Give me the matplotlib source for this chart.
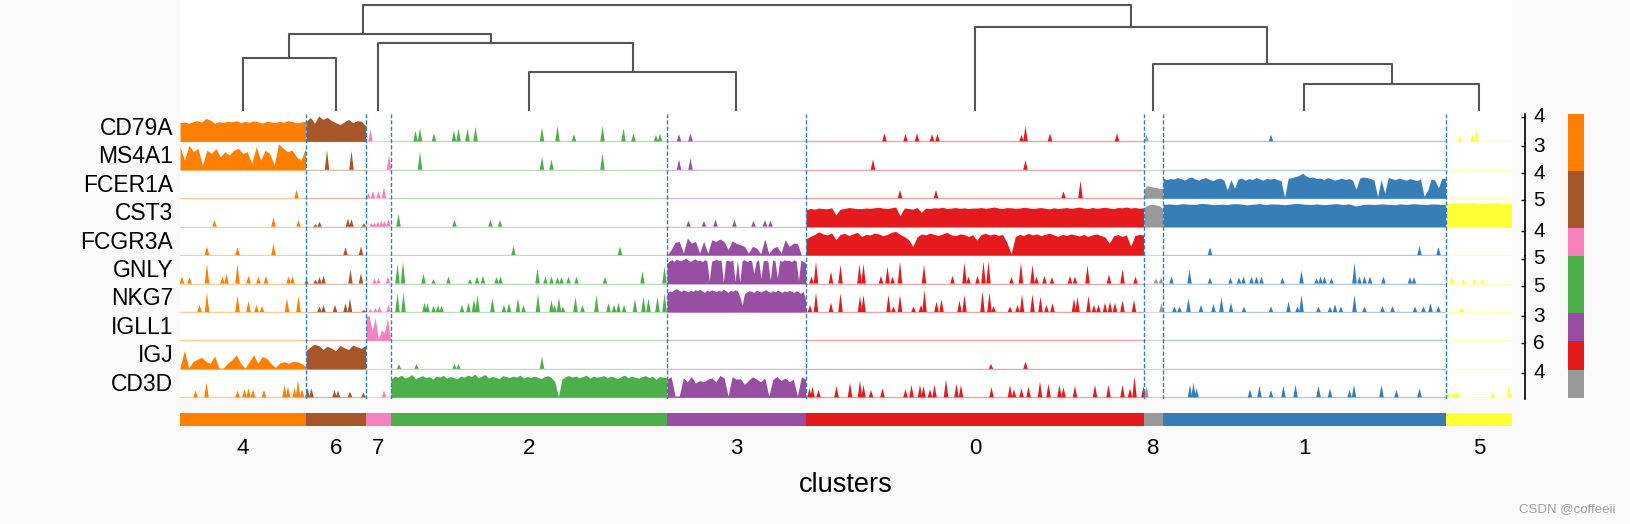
import numpy as np
import matplotlib.pyplot as plt
import matplotlib.transforms as mtransforms

plt.rcParams['font.family'] = ['Liberation Sans', 'DejaVu Sans']

# clusters in plotted (dendrogram) order, with cell counts and colours
clusters = ['4', '6', '7', '2', '3', '0', '8', '1', '5']
cluster_sizes = [252, 120, 50, 552, 278, 676, 38, 566, 132]
cluster_colors = ['#ff7f00', '#a65628', '#f781bf', '#4daf4a', '#984ea3',
                  '#e41a1c', '#999999', '#377eb8', '#ffff33']

genes = ['CD79A', 'MS4A1', 'FCER1A', 'CST3', 'FCGR3A',
         'GNLY', 'NKG7', 'IGLL1', 'IGJ', 'CD3D']
gene_max = [4.2, 3.3, 4.1, 4.9, 4.3, 5.2, 5.0, 3.2, 6.0, 4.2]

# relative expression (fraction of gene max) for clusters where a gene is broadly expressed
dense = {
    ('CD79A', '4'): [0.72, 0.75, 0.7, 0.76, 0.8, 0.74, 0.89, 0.82, 0.7, 0.76, 0.73, 0.78, 0.75, 0.8, 0.72,
                     0.77, 0.74, 0.79, 0.76, 0.7, 0.78, 0.75, 0.73, 0.77, 0.74, 0.8, 0.76, 0.72, 0.75, 0.78],
    ('CD79A', '6'): [0.75, 0.93, 0.7, 0.98, 0.85, 0.93, 0.8, 0.72, 0.65, 0.75, 0.85, 0.72, 0.8, 0.78, 0.6],
    ('MS4A1', '4'): [0.89, 0.37, 0.95, 0.7, 0.83, 0.18, 0.76, 0.63, 0.83, 0.5, 0.7, 0.57, 0.76, 0.83, 0.63,
                     0.7, 0.25, 0.89, 0.37, 0.76, 0.63, 0.18, 1.0, 0.83, 0.7, 0.76, 0.5, 0.37, 0.83],
    ('FCER1A', '8'): [0.3, 0.48, 0.47, 0.45, 0.43, 0.41, 0.4, 0.38, 0.36],
    ('FCER1A', '1'): [0.78, 0.72, 0.76, 0.74, 0.8, 0.75, 0.7, 0.78, 0.82, 0.74,
                      0.7, 0.76, 0.8, 0.72, 0.68, 0.75, 0.78, 0.7, 0.32, 0.72,
                      0.38, 0.74, 0.78, 0.7, 0.76, 0.72, 0.8, 0.75, 0.7, 0.77,
                      0.74, 0.78, 0.72, 0.68, 0.04, 0.76, 0.8, 0.84, 0.88, 0.97,
                      0.86, 0.8, 0.82, 0.76, 0.78, 0.72, 0.8, 0.75, 0.7, 0.74,
                      0.78, 0.72, 0.76, 0.7, 0.35, 0.78, 0.82, 0.8, 0.76, 0.7,
                      0.06, 0.72, 0.2, 0.8, 0.76, 0.72, 0.78, 0.74, 0.7, 0.76,
                      0.72, 0.68, 0.75, 0.08, 0.3, 0.74, 0.7, 0.4, 0.78, 0.76],
    ('CST3', '0'): [0.66, 0.7, 0.68, 0.72, 0.7, 0.69, 0.73, 0.45, 0.68, 0.7,
                    0.74, 0.72, 0.7, 0.7, 0.72, 0.71, 0.73, 0.75, 0.72, 0.7,
                    0.73, 0.76, 0.42, 0.72, 0.7, 0.68, 0.74, 0.55, 0.72, 0.7,
                    0.73, 0.72, 0.75, 0.7, 0.72, 0.74, 0.71, 0.73, 0.7, 0.72,
                    0.72, 0.74, 0.71, 0.73, 0.76, 0.72, 0.7, 0.74, 0.73, 0.71,
                    0.72, 0.75, 0.73, 0.7, 0.72, 0.74, 0.71, 0.69, 0.73, 0.7,
                    0.72, 0.74, 0.71, 0.73, 0.76, 0.72, 0.7, 0.74, 0.71, 0.73,
                    0.75, 0.72, 0.7, 0.74, 0.73, 0.76, 0.72, 0.74, 0.71, 0.73],
    ('CST3', '8'): [0.72, 0.82, 0.85, 0.86, 0.85, 0.83, 0.8, 0.7],
    ('CST3', '1'): [0.86, 0.88, 0.85, 0.89, 0.87, 0.86, 0.9, 0.88, 0.85, 0.87, 0.86, 0.89, 0.88, 0.84, 0.87,
                    0.89, 0.86, 0.88, 0.87, 0.85, 0.88, 0.9, 0.87, 0.86, 0.88, 0.85, 0.87, 0.89, 0.86, 0.88,
                    0.8, 0.85, 0.87, 0.86, 0.88, 0.87, 0.85, 0.88, 0.86, 0.89, 0.87, 0.86, 0.88, 0.87, 0.85],
    ('CST3', '5'): [0.9, 0.92, 0.91, 0.93, 0.92, 0.9, 0.93, 0.92, 0.91, 0.92],
    ('FCGR3A', '3'): [0.0, 0.21, 0.49, 0.53, 0.08, 0.66, 0.46, 0.53, 0.08, 0.53, 0.08, 0.59, 0.53, 0.62, 0.53,
                      0.21, 0.55, 0.46, 0.4, 0.34, 0.08, 0.34, 0.27, 0.05, 0.62, 0.05, 0.27, 0.34, 0.08, 0.59,
                      0.34, 0.46, 0.46, 0.0, 0.0],
    ('FCGR3A', '0'): [0.62, 0.72, 0.8, 0.9, 0.82, 0.78, 0.86, 0.6, 0.8, 0.84,
                      0.76, 0.82, 0.88, 0.72, 0.8, 0.78, 0.85, 0.82, 0.75, 0.8,
                      0.88, 0.92, 0.8, 0.72, 0.6, 0.34, 0.7, 0.82, 0.78, 0.85,
                      0.8, 0.76, 0.82, 0.88, 0.78, 0.75, 0.82, 0.8, 0.72, 0.78,
                      0.58, 0.8, 0.84, 0.78, 0.82, 0.76, 0.8, 0.5, 0.05, 0.72,
                      0.8, 0.76, 0.84, 0.78, 0.82, 0.75, 0.8, 0.85, 0.78, 0.72,
                      0.8, 0.76, 0.82, 0.78, 0.74, 0.8, 0.72, 0.78, 0.82, 0.76,
                      0.7, 0.46, 0.74, 0.8, 0.72, 0.78, 0.34, 0.76, 0.8, 0.78],
    ('GNLY', '3'): [0.78, 0.88, 0.92, 0.85, 0.95, 0.9, 0.88, 0.93, 0.98, 0.9,
                    0.86, 0.92, 0.95, 0.88, 0.9, 0.85, 0.92, 0.88, 0.1, 0.86,
                    0.9, 0.94, 0.88, 0.92, 0.05, 0.88, 0.9, 0.86, 0.92, 0.08,
                    0.9, 0.06, 0.88, 0.92, 0.85, 0.9, 0.88, 0.4, 0.86, 0.92,
                    0.2, 0.88, 0.9, 0.86, 0.12, 0.92, 0.88, 0.2, 0.9, 0.86,
                    0.92, 0.88, 0.9, 0.85, 0.92, 0.88, 0.12, 0.9, 0.86, 0.8],
    ('NKG7', '3'): [0.72, 0.82, 0.78, 0.86, 0.9, 0.84, 0.8, 0.86, 0.82, 0.78,
                    0.84, 0.8, 0.86, 0.82, 0.88, 0.8, 0.76, 0.84, 0.8, 0.86,
                    0.82, 0.78, 0.85, 0.8, 0.88, 0.82, 0.76, 0.84, 0.8, 0.86,
                    0.82, 0.6, 0.27, 0.7, 0.78, 0.82, 0.8, 0.76, 0.84, 0.8,
                    0.78, 0.82, 0.86, 0.8, 0.76, 0.82, 0.78, 0.84, 0.8, 0.76,
                    0.82, 0.78, 0.84, 0.8, 0.76, 0.82, 0.78, 0.72, 0.8, 0.5],
    ('IGLL1', '7'): [0.9, 0.98, 0.35, 0.89, 0.05, 0.4, 0.3, 0.85, 0.05],
    ('IGJ', '4'): [0.05, 0.71, 0.03, 0.28, 0.37, 0.45, 0.28, 0.22, 0.5, 0.03, 0.03, 0.22, 0.35, 0.54, 0.22,
                   0.03, 0.28, 0.54, 0.22, 0.48, 0.41, 0.22, 0.06, 0.22, 0.28, 0.22, 0.28, 0.28, 0.22, 0.09],
    ('IGJ', '6'): [0.7, 0.85, 0.95, 0.9, 0.75, 0.88, 0.8, 0.7, 0.9, 0.82, 0.75, 0.92, 0.85, 0.8, 0.9],
    ('CD3D', '2'): [0.7, 0.82, 0.78, 0.86, 0.74, 0.8, 0.88, 0.72, 0.78, 0.84,
                    0.76, 0.8, 0.7, 0.82, 0.78, 0.85, 0.74, 0.8, 0.76, 0.72,
                    0.82, 0.78, 0.86, 0.8, 0.9, 0.76, 0.82, 0.88, 0.74, 0.8,
                    0.78, 0.72, 0.84, 0.8, 0.76, 0.82, 0.78, 0.86, 0.74, 0.8,
                    0.76, 0.82, 0.78, 0.72, 0.8, 0.84, 0.76, 0.6, 0.02, 0.7,
                    0.8, 0.84, 0.78, 0.82, 0.76, 0.8, 0.86, 0.74, 0.82, 0.78,
                    0.8, 0.84, 0.76, 0.82, 0.78, 0.72, 0.8, 0.86, 0.76, 0.82,
                    0.78, 0.74, 0.8, 0.84, 0.76, 0.82, 0.7, 0.8, 0.78, 0.75],
    ('CD3D', '3'): [0.7, 0.8, 0.05, 0.05, 0.75, 0.6, 0.8, 0.55, 0.65, 0.6, 0.7, 0.75, 0.6, 0.85, 0.75,
                    0.05, 0.8, 0.7, 0.72, 0.5, 0.65, 0.8, 0.7, 0.6, 0.75, 0.05, 0.7, 0.8, 0.65, 0.75,
                    0.6, 0.7, 0.05, 0.8, 0.7],
}

# isolated expressing cells: (cell index, fraction of gene max)
spikes = {
    'CD79A': [(381, 0.44), (471, 0.41), (480, 0.5), (508, 0.31), (548, 0.41), (557, 0.5), (575, 0.5),
              (591, 0.57), (724, 0.54), (755, 0.59), (788, 0.28), (845, 0.59), (887, 0.5), (907, 0.31),
              (952, 0.25), (960, 0.31), (998, 0.28), (1021, 0.31), (1409, 0.31), (1451, 0.28), (1474, 0.31),
              (1504, 0.28), (1515, 0.28), (1683, 0.25), (1691, 0.59), (1740, 0.31), (1874, 0.31),
              (1933, 0.25), (2182, 0.26), (2559, 0.2), (2585, 0.25), (2593, 0.44)],
    'MS4A1': [(294, 0.76), (343, 0.73), (418, 0.57), (480, 0.7), (724, 0.5), (743, 0.4), (845, 0.63),
              (998, 0.4), (1021, 0.44), (1386, 0.4), (1691, 0.37)],
    'FCER1A': [(233, 0.32), (377, 0.19), (386, 0.28), (397, 0.26), (408, 0.43), (1440, 0.32),
               (1512, 0.32), (1767, 0.26), (1801, 0.68)],
    'CST3': [(69, 0.26), (187, 0.36), (237, 0.26), (271, 0.09), (279, 0.19), (336, 0.32), (343, 0.28),
             (368, 0.13), (383, 0.13), (389, 0.15), (396, 0.2), (403, 0.25), (409, 0.22), (417, 0.3),
             (437, 0.49), (549, 0.26), (621, 0.26), (640, 0.26), (1017, 0.23), (1048, 0.22), (1071, 0.28),
             (1109, 0.26), (1147, 0.23), (1170, 0.26), (1181, 0.23)],
    'FCGR3A': [(54, 0.34), (115, 0.3), (187, 0.44), (331, 0.3), (362, 0.34), (667, 0.34), (880, 0.34),
               (2060, 0.31), (2479, 0.34), (2517, 0.31)],
    'GNLY': [(4, 0.27), (19, 0.25), (54, 0.76), (85, 0.27), (93, 0.37), (115, 0.76), (137, 0.3), (157, 0.27),
             (172, 0.3), (217, 0.27), (225, 0.27), (253, 0.14), (271, 0.14), (279, 0.25), (287, 0.3),
             (341, 0.53), (362, 0.4), (389, 0.2), (397, 0.2), (416, 0.27), (435, 0.76), (446, 0.85),
             (487, 0.37), (507, 0.17), (537, 0.27), (580, 0.17), (594, 0.27), (606, 0.3), (633, 0.25),
             (641, 0.27), (715, 0.59), (731, 0.27), (743, 0.27), (755, 0.25), (763, 0.25), (777, 0.27),
             (793, 0.27), (850, 0.25), (925, 0.49), (969, 0.66), (1263, 0.27), (1272, 0.85), (1302, 0.46),
             (1321, 0.72), (1359, 0.76), (1367, 0.76), (1402, 0.3), (1415, 0.66), (1425, 0.27), (1440, 0.85),
             (1488, 0.72), (1545, 0.3), (1569, 0.81), (1577, 0.27), (1595, 0.3), (1607, 0.85), (1617, 0.85),
             (1663, 0.25), (1682, 0.81), (1705, 0.72), (1713, 0.27), (1729, 0.3), (1744, 0.25), (1780, 0.3),
             (1790, 0.27), (1815, 0.7), (1858, 0.36), (1885, 0.55), (1911, 0.27), (1952, 0.2), (1962, 0.22),
             (1983, 0.27), (2019, 0.53), (2060, 0.23), (2101, 0.23), (2118, 0.23), (2127, 0.27), (2143, 0.27),
             (2153, 0.27), (2163, 0.27), (2205, 0.23), (2243, 0.5), (2273, 0.2), (2281, 0.27), (2289, 0.27),
             (2303, 0.2), (2349, 0.81), (2359, 0.27), (2369, 0.27), (2380, 0.27), (2407, 0.27), (2460, 0.25),
             (2468, 0.25), (2543, 0.3), (2567, 0.18), (2589, 0.18), (2605, 0.18)],
    'NKG7': [(39, 0.27), (54, 0.75), (115, 0.66), (137, 0.43), (153, 0.27), (164, 0.23), (214, 0.53),
             (237, 0.62), (279, 0.21), (287, 0.27), (310, 0.27), (331, 0.34), (340, 0.53), (368, 0.08),
             (381, 0.1), (391, 0.14), (399, 0.21), (417, 0.31), (435, 0.72), (447, 0.72), (489, 0.36),
             (495, 0.34), (507, 0.23), (516, 0.27), (523, 0.23), (564, 0.27), (577, 0.36), (588, 0.49),
             (595, 0.66), (625, 0.53), (648, 0.27), (658, 0.34), (676, 0.53), (687, 0.27), (716, 0.7),
             (743, 0.46), (749, 0.27), (758, 0.55), (766, 0.21), (791, 0.57), (805, 0.27), (833, 0.66),
             (857, 0.34), (868, 0.27), (877, 0.36), (888, 0.27), (910, 0.5), (927, 0.59), (937, 0.53),
             (955, 0.59), (969, 0.72), (1260, 0.27), (1272, 0.75), (1302, 0.36), (1321, 0.72), (1360, 0.62),
             (1367, 0.66), (1417, 0.66), (1427, 0.21), (1440, 0.66), (1467, 0.21), (1482, 0.27), (1489, 0.85),
             (1513, 0.4), (1523, 0.49), (1559, 0.44), (1569, 0.66), (1605, 0.79), (1619, 0.75), (1627, 0.23),
             (1660, 0.21), (1675, 0.27), (1684, 0.68), (1705, 0.68), (1721, 0.59), (1733, 0.27), (1745, 0.34),
             (1788, 0.53), (1795, 0.59), (1817, 0.62), (1828, 0.27), (1837, 0.27), (1850, 0.36), (1860, 0.4),
             (1870, 0.36), (1885, 0.44), (1908, 0.46), (1963, 0.34), (1989, 0.21), (1999, 0.21), (2017, 0.53),
             (2042, 0.27), (2067, 0.31), (2083, 0.57), (2102, 0.36), (2128, 0.21), (2182, 0.21), (2217, 0.4),
             (2235, 0.21), (2243, 0.66), (2277, 0.21), (2300, 0.21), (2310, 0.3), (2322, 0.21), (2349, 0.66),
             (2369, 0.21), (2405, 0.23), (2425, 0.23), (2470, 0.21), (2487, 0.21), (2501, 0.34), (2517, 0.23),
             (2563, 0.18)],
    'IGLL1': [],
    'IGJ': [(438, 0.18), (473, 0.18), (549, 0.18), (557, 0.18), (724, 0.48), (1622, 0.19), (1691, 0.28)],
    'CD3D': [(31, 0.26), (53, 0.57), (115, 0.26), (129, 0.31), (137, 0.35), (146, 0.31), (168, 0.28),
             (209, 0.48), (216, 0.41), (229, 0.35), (236, 0.67), (244, 0.31), (255, 0.35), (263, 0.35),
             (309, 0.28), (316, 0.26), (340, 0.22), (367, 0.18), (408, 0.26), (1259, 0.35), (1265, 0.41),
             (1277, 0.28), (1313, 0.44), (1340, 0.57), (1360, 0.65), (1367, 0.48), (1382, 0.28), (1405, 0.35),
             (1451, 0.31), (1463, 0.48), (1480, 0.48), (1487, 0.44), (1500, 0.31), (1509, 0.48), (1532, 0.7),
             (1553, 0.52), (1562, 0.48), (1623, 0.39), (1660, 0.48), (1668, 0.31), (1683, 0.35), (1697, 0.41),
             (1720, 0.61), (1737, 0.52), (1759, 0.48), (1767, 0.39), (1790, 0.44), (1830, 0.48), (1857, 0.48),
             (1885, 0.48), (1900, 0.35), (1909, 0.8), (1927, 0.41), (1933, 0.44), (2020, 0.48), (2027, 0.57),
             (2033, 0.35), (2140, 0.31), (2159, 0.44), (2182, 0.28), (2207, 0.44), (2231, 0.48), (2277, 0.44),
             (2300, 0.35), (2339, 0.28), (2348, 0.48), (2403, 0.48), (2433, 0.28), (2479, 0.35), (2537, 0.18),
             (2547, 0.22), (2555, 0.25), (2625, 0.18), (2658, 0.52)],
}

# dendrogram: leaves are positions in cluster order, merges are (left node, right node, height)
merges = [(0, 1, 51.7), (3, 4, 38.3), (2, 10, 66.7), (9, 11, 75.7),
          (7, 8, 25.7), (6, 13, 46.0), (5, 14, 83.3), (12, 15, 105.0)]

# small colour strip at the right
side_colors = ['#ff7f00', '#a65628', '#f781bf', '#4daf4a', '#984ea3', '#e41a1c', '#999999']
side_rows = [2, 2, 1, 2, 1, 1, 1]

bounds = np.concatenate([[0], np.cumsum(cluster_sizes)])
total = bounds[-1]
centers = (bounds[:-1] + bounds[1:]) / 2

W, H = 1631, 524
fig = plt.figure(figsize=(W / 100, H / 100), dpi=100, facecolor='#fafafa')
left, width = 180 / W, 1332 / W
row_h = 28.44
row_top = 114.2

for i, gene in enumerate(genes):
    top = row_top + i * row_h
    ax = fig.add_axes([left, 1 - (top + row_h) / H, width, row_h / H])
    m = gene_max[i]
    for k, cl in enumerate(clusters):
        x0, x1 = bounds[k], bounds[k + 1] - 1
        ax.plot([x0, x1], [0, 0], color=cluster_colors[k], alpha=0.4, lw=1)
        if (gene, cl) in dense:
            vals = np.array(dense[(gene, cl)]) * m
            xs = np.linspace(x0, x1, len(vals))
            ax.fill_between(xs, 0, vals, color=cluster_colors[k], lw=0)
    for c, v in spikes[gene]:
        k = np.searchsorted(bounds, c, side='right') - 1
        ax.fill([c - 4.5, c, c + 4.5], [0, v * m, 0], color=cluster_colors[k], lw=0)
    ymax = 1.05 * m
    ax.set_xlim(0, total)
    ax.set_ylim(-0.05 * m, ymax)
    for s in ['left', 'top', 'bottom']:
        ax.spines[s].set_visible(False)
    ax.spines['right'].set_position(('axes', 1.01))
    ax.spines['right'].set_linewidth(1.2)
    ax.set_xticks([])
    ax.yaxis.tick_right()
    ax.set_yticks([int(ymax)])
    ax.tick_params(axis='y', direction='in', length=3, width=1, labelright=False)
    trans = mtransforms.blended_transform_factory(ax.transAxes, ax.transData)
    ax.text(1.016, int(ymax), str(int(ymax)), transform=trans, ha='left', va='center',
            fontsize=15, clip_on=False)
    ax.text(-0.005, 0.1, gene, transform=ax.transAxes, ha='right', va='bottom', fontsize=16.5)

# dashed separators between clusters
ov = fig.add_axes([left, 1 - (row_top + 10 * row_h) / H, width, 10 * row_h / H])
ov.vlines(bounds[1:-1], 0, 1, lw=1, linestyle=(0, (3, 1.5)), color='#2a7fc9')
ov.set_xlim(0, total)
ov.set_ylim(0, 1)
ov.axis('off')

# dendrogram
dax = fig.add_axes([left, 1 - row_top / H, width, row_top / H])
node_pos = list(range(len(clusters)))
node_h = [0.0] * len(clusters)
for a, b, h in merges:
    xa = np.interp(node_pos[a], range(len(clusters)), centers)
    xb = np.interp(node_pos[b], range(len(clusters)), centers)
    dax.plot([xa, xa, xb, xb], [node_h[a], h, h, node_h[b]], color='#555555', lw=1.5)
    node_pos.append((node_pos[a] + node_pos[b]) / 2)
    node_h.append(h)
dax.set_xlim(0, total)
dax.set_ylim(-4.2, 110)
dax.set_xticks([])
dax.set_yticks([])
for s in dax.spines.values():
    s.set_visible(False)

# cluster colour blocks
cax = fig.add_axes([left, 1 - 426 / H, width, 13 / H])
cax.bar(bounds[:-1], 1, width=cluster_sizes, align='edge', color=cluster_colors, lw=0)
cax.set_xlim(0, total)
cax.set_ylim(0, 1)
cax.set_yticks([])
cax.set_xticks(centers)
cax.set_xticklabels(clusters)
cax.tick_params(axis='x', length=0, pad=8.5, labelsize=16)
for s in cax.spines.values():
    s.set_visible(False)
fig.text(846 / W, 1 - 492 / H, 'clusters', ha='center', va='baseline', fontsize=19.5)

# side colour strip
sax = fig.add_axes([1568 / W, 1 - 398 / H, 16 / W, 284 / H])
sax.bar(0, side_rows, bottom=np.cumsum(side_rows) - np.array(side_rows), width=1,
        color=side_colors, lw=0)
sax.set_xlim(-0.5, 0.5)
sax.set_ylim(sum(side_rows), 0)
sax.axis('off')

fig.text(1616 / W, 1 - 509 / H, 'CSDN @coffeeii', ha='right', va='center', fontsize=9.5, color='#a0a0a0')

fig.savefig('out.png', dpi=100, facecolor=fig.get_facecolor())
